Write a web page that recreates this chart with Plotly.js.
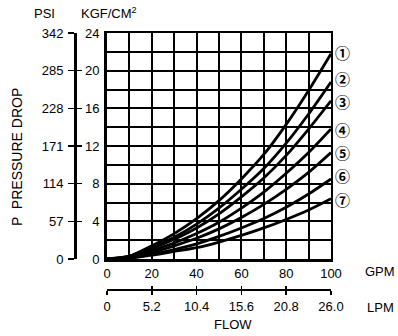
<!DOCTYPE html>
<html>
<head>
<meta charset="utf-8">
<script src="https://cdn.plot.ly/plotly-3.0.1.min.js"></script>
<style>html,body{margin:0;padding:0;background:#fff;}#chart{width:398px;height:336px;}</style>
</head>
<body>
<div id="chart"></div>
<script>
// GPM flow values
const gpm = [0, 10, 20, 30, 40, 50, 60, 70, 80, 90, 100];
// Pressure drop (KGF/CM2) for curves 1..7
const curve1 = [0, 0.3, 1.4, 2.7, 4.3, 6.2, 8.5, 11.1, 14.3, 17.9, 21.8];
const curve2 = [0, 0.3, 1.2, 2.3, 3.7, 5.4, 7.4, 9.6, 12.3, 15.4, 18.8];
const curve3 = [0, 0.25, 1.1, 2.1, 3.3, 4.8, 6.6, 8.6, 11.0, 13.8, 16.8];
const curve4 = [0, 0.2, 0.9, 1.7, 2.7, 3.9, 5.4, 7.1, 9.1, 11.3, 13.8];
const curve5 = [0, 0.15, 0.7, 1.4, 2.2, 3.2, 4.4, 5.8, 7.4, 9.2, 11.3];
const curve6 = [0, 0.1, 0.5, 1.0, 1.6, 2.4, 3.3, 4.3, 5.5, 6.9, 8.5];
const curve7 = [0, 0.1, 0.4, 0.8, 1.2, 1.8, 2.5, 3.3, 4.2, 5.2, 6.4];
const curveLabels = ['\u2460', '\u2461', '\u2462', '\u2463', '\u2464', '\u2465', '\u2466'];

// Tick labels
const gpmTicks = [0, 20, 40, 60, 80, 100];
const kgfTicks = [0, 4, 8, 12, 16, 20, 24];
const psiTicks = [0, 57, 114, 171, 228, 285, 342];
const lpmTicks = [0, 5.2, 10.4, 15.6, 20.8, 26.0];
const lpmText = ['0', '5.2', '10.4', '15.6', '20.8', '26.0'];

const curves = [curve1, curve2, curve3, curve4, curve5, curve6, curve7];
const FONT = 'Liberation Sans, Arial, Helvetica, sans-serif';
// small vertical nudges (px) for the circled labels
const labelNudge = [1, 3, -1, 0, 0, 3, -1];

const xEnds = [gpm[0], gpm[gpm.length-1]];
const yEnds = [kgfTicks[0], kgfTicks[kgfTicks.length-1]];

const traces = curves.map(c => ({
  x: gpm, y: c, type: 'scatter', mode: 'lines',
  line: {color: '#000', width: 2.8, shape: 'spline', smoothing: 0.8},
  hoverinfo: 'skip', showlegend: false
}));
const helper = (o) => Object.assign({mode: 'markers', marker: {opacity: 0}, hoverinfo: 'skip', showlegend: false, type: 'scatter'}, o);
// helper traces to attach the secondary axes
traces.push(helper({x: xEnds, y: [psiTicks[0], psiTicks[psiTicks.length-1]], yaxis: 'y2'}));
traces.push(helper({x: xEnds, y: [psiTicks[0], psiTicks[psiTicks.length-1]], yaxis: 'y3'}));
traces.push(helper({x: xEnds, y: yEnds, yaxis: 'y4'}));
traces.push(helper({x: [lpmTicks[0], lpmTicks[lpmTicks.length-1]], y: yEnds, xaxis: 'x2'}));
traces.push(helper({x: [lpmTicks[0], lpmTicks[lpmTicks.length-1]], y: yEnds, xaxis: 'x3'}));
traces.push(helper({x: xEnds, y: yEnds, xaxis: 'x4'}));

const W = 398, H = 336, ML = 40, MR = 67, MT = 33, MB = 20;
const PW = W - ML - MR, PH = H - MT - MB;
const px = v => (v - ML) / PW;
const py = v => (H - MB - v) / PH;

const tickFont = {family: FONT, size: 13, color: '#000'};

const annotations = curveLabels.map((t, i) => ({
  x: gpm[gpm.length-1], y: curves[i][curves[i].length-1], xref: 'x', yref: 'y',
  text: t, showarrow: false, xanchor: 'center', yanchor: 'middle', xshift: 11, yshift: labelNudge[i],
  font: {family: 'Noto Sans CJK JP, DejaVu Sans', size: 15, color: '#000', weight: 700}
}));
const lab = (text, x, y, extra) => Object.assign({
  text, x: px(x), y: py(y), xref: 'paper', yref: 'paper', showarrow: false,
  xanchor: 'center', yanchor: 'middle', font: {family: FONT, size: 13, color: '#000'}
}, extra || {});
annotations.push(lab('PSI', 44, 14));
annotations.push(lab('KGF/CM<sup>2</sup>', 109, 13));
annotations.push(lab('GPM', 380, 271));
annotations.push(lab('LPM', 380, 307));
annotations.push(lab('FLOW', 233, 324));
annotations.push(lab('P  PRESSURE DROP', 17, 157, {textangle: -90, font: {family: FONT, size: 14, color: '#000'}}));

const xd0 = px(107);
const GW = 2;
const layout = {
  width: W, height: H,
  margin: {l: ML, r: MR, t: MT, b: MB, pad: 0},
  paper_bgcolor: '#fff', plot_bgcolor: '#fff',
  showlegend: false,
  xaxis: {
    domain: [xd0, 1], range: [0, 100], tickmode: 'array', tickvals: gpmTicks,
    showgrid: true, gridcolor: '#000', gridwidth: GW,
    minor: {dtick: 10, tick0: 0, showgrid: true, gridcolor: '#000', gridwidth: GW},
    showline: true, linecolor: '#000', linewidth: 3, zeroline: false,
    ticks: '', tickfont: tickFont, anchor: 'y', fixedrange: true
  },
  yaxis: {
    domain: [py(259), 1], range: [0, 24], tickmode: 'array', tickvals: kgfTicks,
    showgrid: true, gridcolor: '#000', gridwidth: GW,
    minor: {dtick: 2, tick0: 0, showgrid: true, gridcolor: '#000', gridwidth: GW},
    showline: true, linecolor: '#000', linewidth: 3, zeroline: false,
    ticks: '', ticklabelstandoff: 2, tickfont: tickFont, anchor: 'x', fixedrange: true
  },
  xaxis4: {
    overlaying: 'x', anchor: 'y', side: 'top', range: [0, 100],
    showline: true, linecolor: '#000', linewidth: 2, showgrid: false, zeroline: false,
    ticks: '', showticklabels: false, fixedrange: true
  },
  yaxis4: {
    overlaying: 'y', anchor: 'x', side: 'right', range: [0, 24],
    showline: true, linecolor: '#000', linewidth: 2, showgrid: false, zeroline: false,
    ticks: '', showticklabels: false, fixedrange: true
  },
  yaxis2: {
    overlaying: 'y', anchor: 'free', position: px(75), side: 'left',
    range: [0, 342], tickmode: 'array', tickvals: psiTicks,
    ticks: 'outside', ticklen: 6, tickwidth: 1.5, tickcolor: '#000',
    showline: true, linecolor: '#000', linewidth: 3, showgrid: false, zeroline: false,
    ticklabelstandoff: 2, tickfont: tickFont, fixedrange: true
  },
  yaxis3: {
    overlaying: 'y', anchor: 'free', position: px(75), side: 'left',
    range: [0, 342], tickmode: 'array', tickvals: psiTicks,
    ticks: 'inside', ticklen: 6, tickwidth: 1.5, tickcolor: '#000',
    showline: false, showgrid: false, zeroline: false, showticklabels: false, fixedrange: true
  },
  xaxis2: {
    overlaying: 'x', anchor: 'free', position: py(290), side: 'bottom',
    range: [0, 26], tickmode: 'array', tickvals: lpmTicks, ticktext: lpmText,
    ticks: 'outside', ticklen: 4, tickwidth: 1.5, tickcolor: '#000',
    showline: true, linecolor: '#000', linewidth: 2, showgrid: false, zeroline: false,
    tickfont: tickFont, fixedrange: true
  },
  xaxis3: {
    overlaying: 'x', anchor: 'free', position: py(290), side: 'bottom',
    range: [0, 26], tickmode: 'array', tickvals: lpmTicks,
    ticks: 'inside', ticklen: 4, tickwidth: 1.5, tickcolor: '#000',
    showline: false, showgrid: false, zeroline: false, showticklabels: false, fixedrange: true
  },
  annotations
};

Plotly.newPlot('chart', traces, layout, {staticPlot: true, displayModeBar: false});
</script>
</body>
</html>
